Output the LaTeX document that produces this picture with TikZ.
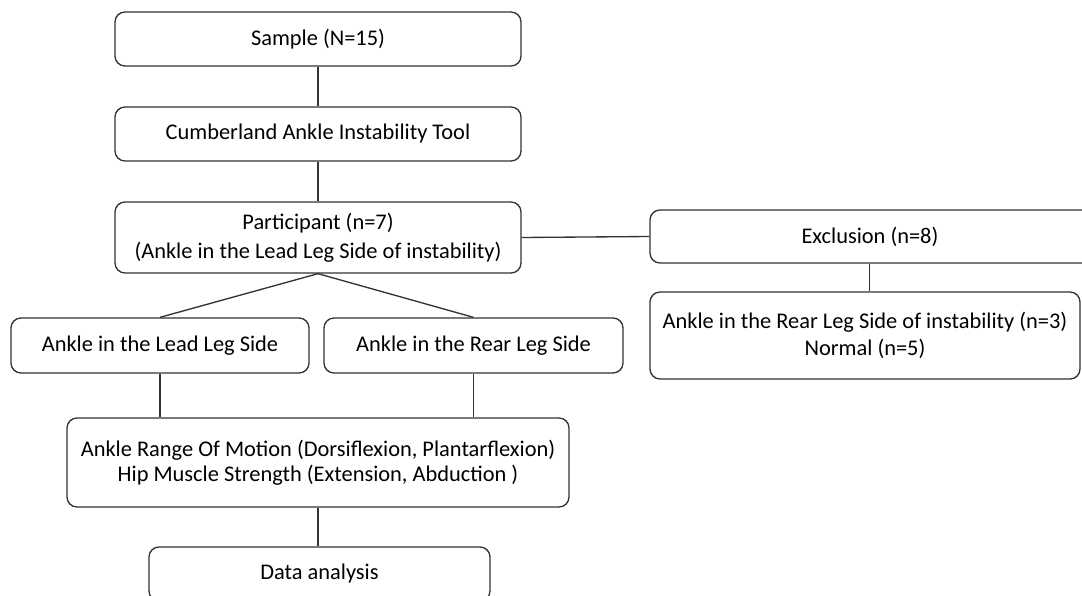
\documentclass[tikz,border=0pt]{standalone}
\usepackage{fontspec}
\setmainfont{Carlito}
\begin{document}
\begin{tikzpicture}[x=0.75pt,y=-0.75pt,
  box/.style={draw=black!80, line width=1pt, rounded corners=7.5pt, align=center,
    inner sep=0pt, text=black, font=\fontsize{16.8}{19.5}\selectfont},
  conn/.style={draw=black!80, line width=1pt}]
\useasboundingbox (0,0) rectangle (1082,596);
\node[box, minimum width=304.5pt, minimum height=40.5pt] (sample) at (318,39) {Sample (N=15)};
\node[box, minimum width=304.5pt, minimum height=40.5pt] (cait) at (318,134) {Cumberland Ankle Instability Tool};
\node[box, minimum width=304.5pt, minimum height=53.25pt, font=\fontsize{16.8}{21.5}\selectfont] (part) at (318,237.5) {Participant (n=7)\\(Ankle in the Lead Leg Side of instability)};
\node[box, minimum width=360pt, minimum height=39.75pt,
  label={[font=\fontsize{16.8}{19.5}\selectfont, text=black, xshift=-15pt]center:Exclusion (n=8)}] (excl) at (890,236.5) {};
\node[box, minimum width=322.5pt, minimum height=65.25pt, font=\fontsize{16.8}{20.2}\selectfont] (rest) at (865,335.5) {Ankle in the Rear Leg Side of instability (n=3)\\Normal (n=5)};
\node[box, minimum width=223.5pt, minimum height=41.25pt] (lead) at (160,345.5) {Ankle in the Lead Leg Side};
\node[box, minimum width=224.25pt, minimum height=41.25pt] (rear) at (473.5,345.5) {Ankle in the Rear Leg Side};
\node[box, minimum width=376.5pt, minimum height=66.75pt, font=\fontsize{16.8}{19}\selectfont] (meas) at (318,462.5) {Ankle Range Of Motion (Dorsiflexion, Plantarflexion)\\Hip Muscle Strength (Extension, Abduction )};
\node[box, minimum width=255.75pt, minimum height=40.5pt] (data) at (319.5,574) {Data analysis};
\path (excl.south west) ++(220,0) coordinate (exd);
\draw[conn] (sample.south) -- (cait.north);
\draw[conn] (cait.south) -- (part.north);
\draw[conn] (part.east) -- (excl.west);
\draw[conn] (exd) -- (exd |- rest.north);
\draw[conn] (part.south) -- (lead.north);
\draw[conn] (part.south) -- (rear.north);
\draw[conn] (lead.south) -- (lead.south |- meas.north);
\draw[conn] (rear.south) -- (rear.south |- meas.north);
\draw[conn] (meas.south) -- (data.north -| meas.south);
\end{tikzpicture}
\end{document}
